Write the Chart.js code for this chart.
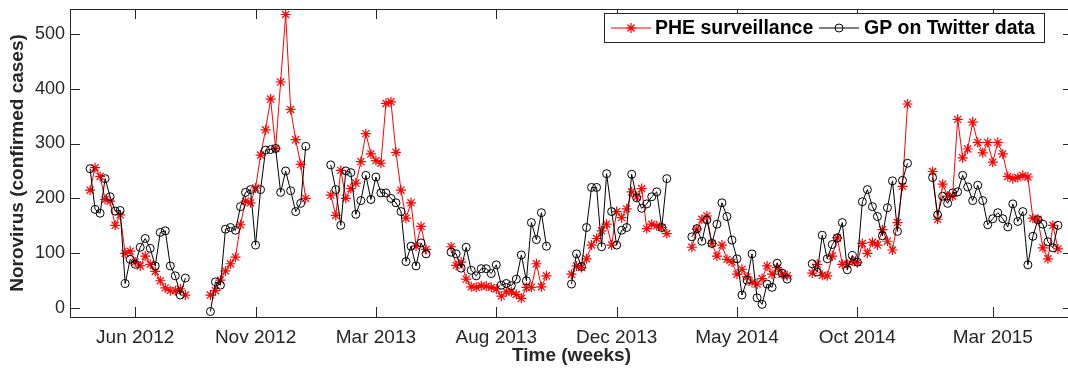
<!DOCTYPE html>
<html>
<head>
<meta charset="utf-8">
<script src="https://cdn.jsdelivr.net/npm/chart.js@4.4.0/dist/chart.umd.min.js"></script>
<style>
  html, body { margin: 0; padding: 0; background: #fff; overflow: hidden; }
  #wrap { width: 1068px; height: 369px; overflow: hidden; }
  canvas { display: block; }
</style>
</head>
<body>
<div id="wrap"><canvas id="noro-chart" width="1080" height="369"></canvas></div>
<script>
// weekly values, null = weeks with no data (gaps between the seasons)
var phe_surveillance = [
  215, 256, 240, 198, 195, 151, 170, 100, 104, 84, 77, 95, 80, 67, 50, 37, 32, 32, 35, 24,
  null, null, null, null,
  24, 32, 51, 68, 81, 93, 152, 195, 192, 219, 279, 325, 381, 291, 412, 535, 362, 307, 262, 200,
  null, null, null, null,
  206, 169, 251, 200, 218, 228, 267, 318, 281, 269, 264, 373, 376, 284, 215, 164, 192, 113, 149, 107,
  null, null, null, null,
  112, 78, 84, 53, 39, 38, 41, 40, 38, 35, 22, 30, 30, 25, 18, 38, 38, 81, 39, 59,
  null, null, null, null,
  62, 77, 74, 90, 115, 127, 141, 153, 115, 176, 165, 181, 212, 203, 218, 145, 153, 150, 147, 136,
  null, null, null, null,
  111, 144, 162, 168, 118, 95, 115, 89, 84, 62, 71, 57, 47, 44, 54, 77, 62, 74, 62, 59,
  null, null, null, null,
  64, 80, 60, 59, 95, 128, 80, 80, 86, 83, 118, 100, 120, 115, 143, 122, 106, 156, 222, 372,
  null, null, null, null,
  249, 162, 226, 204, 204, 344, 274, 290, 339, 302, 283, 302, 266, 302, 281, 240, 236, 238, 242, 239, 164, 162, 110, 90, 151, 108
];

var gp_twitter = [
  254, 180, 173, 236, 203, 177, 178, 45, 89, 80, 111, 127, 109, 77, 138, 141, 77, 59, 24, 55,
  null, null, null, null,
  -6, 48, 42, 144, 147, 142, 185, 211, 216, 115, 216, 288, 289, 291, 211, 250, 214, 176, 191, 295,
  null, null, null, null,
  261, 216, 151, 250, 247, 171, 196, 242, 198, 239, 210, 210, 200, 192, 176, 85, 113, 77, 119, 99,
  null, null, null, null,
  102, 99, 73, 111, 69, 59, 72, 72, 63, 79, 42, 45, 41, 53, 97, 50, 156, 125, 174, 113,
  null, null, null, null,
  44, 99, 76, 147, 220, 220, 112, 245, 176, 115, 142, 147, 244, 201, 182, 190, 203, 212, 147, 236,
  null, null, null, null,
  130, 145, 122, 161, 118, 153, 192, 167, 124, 90, 24, 51, 99, 19, 7, 44, 38, 82, 64, 53,
  null, null, null, null,
  81, 66, 133, 90, 116, 128, 156, 70, 96, 84, 194, 216, 185, 167, 132, 183, 232, 140, 233, 264,
  null, null, null, null,
  238, 170, 204, 191, 210, 212, 242, 221, 196, 224, 196, 152, 163, 174, 163, 148, 190, 158, 176, 79, 131, 161, 153, 121, 110, 151
];

// x tick positions (week number) and their labels
var x_tick_weeks = [9, 33, 57, 81, 105, 129, 153, 180];
var x_tick_labels = ["Jun 2012", "Nov 2012", "Mar 2013", "Aug 2013", "Dec 2013", "May 2014", "Oct 2014", "Mar 2015"];
var y_ticks = [0, 100, 200, 300, 400, 500];

var series_names = ["PHE surveillance", "GP on Twitter data"];

var axis_color = "#262626";
var font_family = "'Liberation Sans', Arial, Helvetica, sans-serif";
var tick_len = 10;

function to_points(values) {
  var out = [];
  for (var i = 0; i < values.length; i++) {
    out.push({ x: i, y: values[i] });
  }
  return out;
}

// draws the full box and the inward tick marks like matlab does
var matlab_axes = {
  id: 'matlab_axes',
  afterDatasetsDraw: function(chart) {
    var ctx = chart.ctx;
    var area = chart.chartArea;
    var xs = chart.scales.x;
    var ys = chart.scales.y;
    ctx.save();
    ctx.strokeStyle = axis_color;
    ctx.lineWidth = 1;
    ctx.beginPath();
    xs.ticks.forEach(function(t) {
      var px = Math.round(xs.getPixelForValue(t.value)) + 0.5;
      ctx.moveTo(px, area.bottom);
      ctx.lineTo(px, area.bottom - tick_len);
      ctx.moveTo(px, area.top);
      ctx.lineTo(px, area.top + tick_len);
    });
    ys.ticks.forEach(function(t) {
      var py = Math.round(ys.getPixelForValue(t.value)) + 0.5;
      ctx.moveTo(area.left, py);
      ctx.lineTo(area.left + tick_len, py);
      ctx.moveTo(area.right, py);
      ctx.lineTo(area.right - tick_len, py);
    });
    ctx.stroke();
    ctx.strokeRect(area.left + 0.5, area.top + 0.5, area.right - area.left, area.bottom - area.top);
    ctx.restore();
  }
};

function draw_star(ctx, x, y, r) {
  var d = r * Math.SQRT1_2;
  ctx.beginPath();
  ctx.moveTo(x - r, y); ctx.lineTo(x + r, y);
  ctx.moveTo(x, y - r); ctx.lineTo(x, y + r);
  ctx.moveTo(x - d, y - d); ctx.lineTo(x + d, y + d);
  ctx.moveTo(x - d, y + d); ctx.lineTo(x + d, y - d);
  ctx.stroke();
}

// boxed legend in the top right corner
var boxed_legend = {
  id: 'boxed_legend',
  afterDraw: function(chart) {
    var ctx = chart.ctx;
    var box_left = 604.5, box_top = 13.5, box_w = 440, box_h = 29;
    var mid = box_top + box_h / 2;
    ctx.save();
    ctx.fillStyle = "#fff";
    ctx.fillRect(box_left, box_top, box_w, box_h);
    ctx.strokeStyle = axis_color;
    ctx.lineWidth = 1;
    ctx.strokeRect(box_left, box_top, box_w, box_h);

    ctx.font = "bold 19.5px " + font_family;
    ctx.textBaseline = "middle";
    ctx.fillStyle = "#000";

    // red entry
    ctx.strokeStyle = "#ff0000";
    ctx.lineWidth = 1.2;
    ctx.beginPath();
    ctx.moveTo(611, mid); ctx.lineTo(651, mid);
    ctx.stroke();
    draw_star(ctx, 631, mid, 5);
    ctx.fillText(series_names[0], 655, mid + 1);

    // black entry
    ctx.strokeStyle = "#000";
    ctx.lineWidth = 1;
    ctx.beginPath();
    ctx.moveTo(819, mid); ctx.lineTo(859, mid);
    ctx.stroke();
    ctx.beginPath();
    ctx.arc(839, mid, 4, 0, Math.PI * 2);
    ctx.stroke();
    ctx.fillText(series_names[1], 864, mid + 1);
    ctx.restore();
  }
};

new Chart(document.getElementById("noro-chart"), {
  type: 'line',
  data: {
    datasets: [
      {
        label: series_names[0],
        data: to_points(phe_surveillance),
        borderColor: "#ff0000",
        borderWidth: 1,
        pointStyle: 'star',
        pointRadius: 5,
        pointBorderColor: "#ff0000",
        pointBorderWidth: 1.2,
        pointBackgroundColor: "#ff0000",
        spanGaps: false,
        tension: 0,
        order: 1
      },
      {
        label: series_names[1],
        data: to_points(gp_twitter),
        borderColor: "#000000",
        borderWidth: 1,
        pointStyle: 'circle',
        pointRadius: 4,
        pointBorderColor: "#000000",
        pointBorderWidth: 1,
        pointBackgroundColor: "rgba(0,0,0,0)",
        spanGaps: false,
        tension: 0,
        order: 0
      }
    ]
  },
  options: {
    responsive: false,
    animation: false,
    layout: { padding: { top: 9, right: 7, left: 0, bottom: 0 } },
    plugins: {
      legend: { display: false },
      tooltip: { enabled: false }
    },
    scales: {
      x: {
        type: 'linear',
        min: -4,
        max: 196,
        grid: { display: false, drawTicks: false },
        border: { display: false },
        afterBuildTicks: function(scale) {
          scale.ticks = x_tick_weeks.map(function(w) { return { value: w }; });
        },
        afterFit: function(scale) {
          scale.height = 52;
          scale.paddingLeft = 0;
          scale.paddingRight = 0;
        },
        ticks: {
          autoSkip: false,
          maxRotation: 0,
          padding: 9,
          color: axis_color,
          font: { family: font_family, size: 19 },
          callback: function(value, index) { return x_tick_labels[index]; }
        },
        title: {
          display: true,
          text: 'Time (weeks)',
          color: axis_color,
          font: { family: font_family, size: 19, weight: 'bold' },
          padding: { top: 0, bottom: 2 }
        }
      },
      y: {
        min: -16,
        max: 545,
        grid: { display: false, drawTicks: false },
        border: { display: false },
        afterBuildTicks: function(scale) {
          scale.ticks = y_ticks.map(function(v) { return { value: v }; });
        },
        afterFit: function(scale) {
          scale.width = 70;
          scale.paddingTop = 0;
          scale.paddingBottom = 0;
        },
        ticks: {
          padding: 5,
          color: axis_color,
          font: { family: font_family, size: 18 }
        },
        title: {
          display: true,
          text: 'Norovirus (confirmed cases)',
          color: axis_color,
          font: { family: font_family, size: 19, weight: 'bold' },
          padding: { top: 6, bottom: 0 }
        }
      }
    }
  },
  plugins: [matlab_axes, boxed_legend]
});
</script>
</body>
</html>
